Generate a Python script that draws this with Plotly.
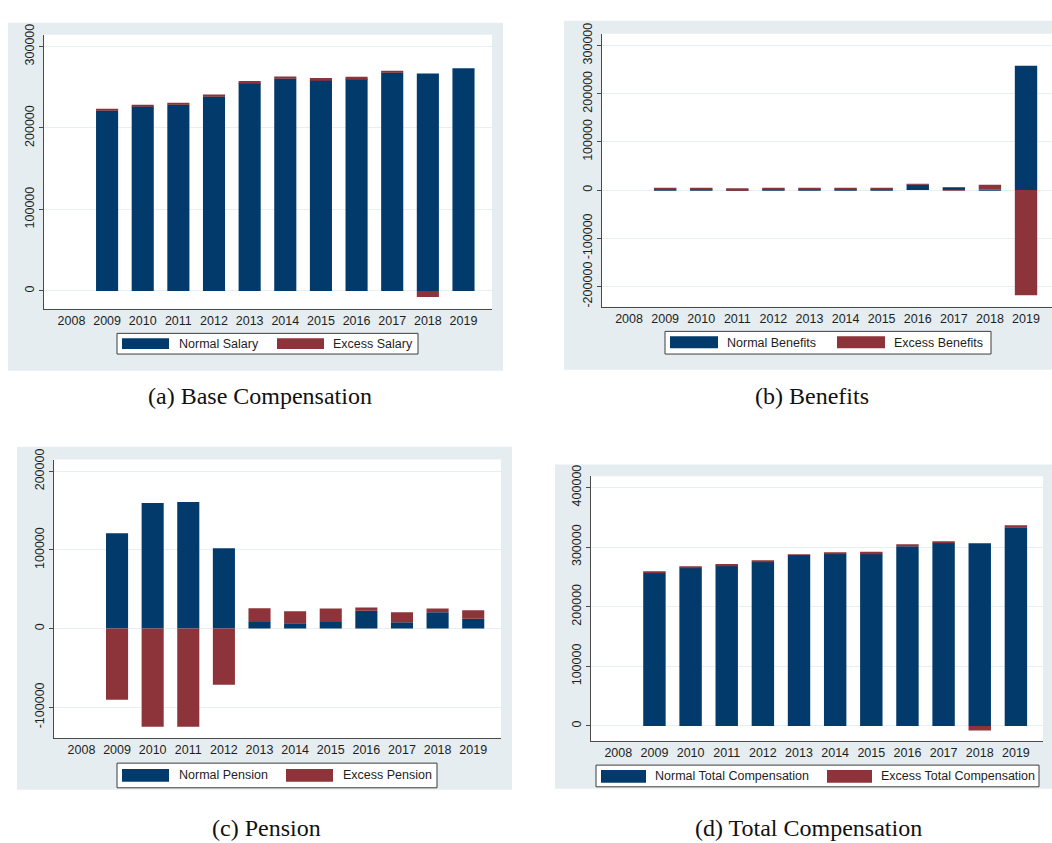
import plotly.graph_objects as go

# ---- data -------------------------------------------------------------
years = [2009, 2010, 2011, 2012, 2013, 2014, 2015, 2016, 2017, 2018, 2019]
year_ticks = [2008, 2009, 2010, 2011, 2012, 2013, 2014, 2015, 2016, 2017, 2018, 2019]

salary_normal = [221500, 226500, 228900, 238600, 255200, 260800, 259200, 260400, 268000, 266900, 273300]
salary_excess = [1700, 1500, 2000, 2400, 2400, 2400, 2000, 2400, 1300, -7300, 0]

benefits_normal = [1500, 2000, 500, 1000, 1500, 2000, 1500, 11500, 6000, 500, 258000]
benefits_excess = [3500, 3000, 3500, 3500, 3000, 2500, 3000, 500, -800, 10500, -218000]

pension_normal = [121300, 159800, 161100, 102100, 8400, 6700, 8400, 22600, 8000, 20900, 12600]
pension_excess = [-90400, -124700, -124700, -71500, 17500, 15500, 17100, 4200, 12900, 4600, 10800]

total_normal = [257300, 265600, 269400, 274900, 286500, 288700, 289300, 301400, 306900, 306300, 333300]
total_excess = [1700, 2200, 2200, 2800, 1100, 1700, 2700, 2700, 2200, -7700, 2800]

panels = [
    dict(normal=salary_normal, excess=salary_excess,
         labels=("Normal Salary", "Excess Salary"),
         caption="(a) Base Compensation",
         yticks=[0, 100000, 200000, 300000]),
    dict(normal=benefits_normal, excess=benefits_excess,
         labels=("Normal Benefits", "Excess Benefits"),
         caption="(b) Benefits",
         yticks=[-200000, -100000, 0, 100000, 200000, 300000]),
    dict(normal=pension_normal, excess=pension_excess,
         labels=("Normal Pension", "Excess Pension"),
         caption="(c) Pension",
         yticks=[-100000, 0, 100000, 200000]),
    dict(normal=total_normal, excess=total_excess,
         labels=("Normal Total Compensation", "Excess Total Compensation"),
         caption="(d) Total Compensation",
         yticks=[0, 100000, 200000, 300000, 400000]),
]

# ---- layout geometry (pixels on a 1052 x 843 page) ---------------------
W, H = 1052, 843
BLUE = "#023a6b"
RED = "#8c3439"
BG = "#e5edf0"
GRID = "#e8eff1"
AXIS = "#4a4a4a"

geom = [
    dict(bg=(8, 12, 503, 365), plot=(44, 24, 492, 302),
         xr=(2007.23, 2019.8), yr=(-21800, 314500),
         box=(117, 327, 418, 348), sw=(332, 343),
         items=((122, 169, 177), (277, 324, 331)),
         cap=(260, 391)),
    dict(bg=(564, 10, 1052, 364), plot=(602, 23, 1052, 300),
         xr=(2007.25, 2019.72), yr=(-242000, 324500),
         box=(665, 325, 991, 348), sw=(330, 342),
         items=((670, 718, 725), (837, 885, 892)),
         cap=(812, 391)),
    dict(bg=(17, 442, 512, 790), plot=(54, 455, 501, 738),
         xr=(2007.23, 2019.78), yr=(-139700, 215000),
         box=(117, 763, 437, 788), sw=(769, 782),
         items=((122, 169, 177), (286, 333, 341)),
         cap=(266, 829)),
    dict(bg=(555, 460, 1052, 789), plot=(591, 472, 1043, 741),
         xr=(2007.245, 2019.75), yr=(-26000, 418700),
         box=(596, 765, 1039, 787), sw=(770, 783),
         items=((601, 646, 653), (827, 872, 879)),
         cap=(808, 829)),
]


def px(x):
    return x / W


def py(y):
    return 1 - y / H


fig = go.Figure()
shapes = []
annotations = []
layout_axes = {}

for i, (p, g) in enumerate(zip(panels, geom)):
    n = i + 1
    xa = "x" if n == 1 else f"x{n}"
    ya = "y" if n == 1 else f"y{n}"

    fig.add_trace(go.Bar(x=years, y=p["normal"], xaxis=xa, yaxis=ya,
                         marker=dict(color=BLUE, line=dict(width=0)),
                         width=0.62, name=p["labels"][0], showlegend=False))
    fig.add_trace(go.Bar(x=years, y=p["excess"], xaxis=xa, yaxis=ya,
                         marker=dict(color=RED, line=dict(width=0)),
                         width=0.62, name=p["labels"][1], showlegend=False))

    x0, y0, x1, y1 = g["plot"]
    xkey = "xaxis" if n == 1 else f"xaxis{n}"
    ykey = "yaxis" if n == 1 else f"yaxis{n}"
    layout_axes[xkey] = dict(
        domain=[px(x0), min(px(x1), 1.0)], anchor=ya, range=list(g["xr"]),
        tickmode="array", tickvals=year_ticks, ticktext=[str(v) for v in year_ticks],
        showgrid=False, zeroline=False, showline=True, linecolor=AXIS, linewidth=1,
        ticks="", tickfont=dict(family="Liberation Sans, Arial", size=12.5, color="#1e1e1e"),
        fixedrange=True,
    )
    layout_axes[ykey] = dict(
        domain=[py(y1), py(y0)], anchor=xa, range=list(g["yr"]),
        tickmode="array", tickvals=p["yticks"], ticktext=[str(v) for v in p["yticks"]],
        tickangle=-90, showgrid=True, gridcolor=GRID, gridwidth=1,
        zeroline=False, showline=True, linecolor=AXIS, linewidth=1,
        ticks="outside", ticklen=4, tickcolor=AXIS, tickwidth=1,
        tickfont=dict(family="Liberation Sans, Arial", size=12.5, color="#1e1e1e"),
        fixedrange=True,
    )

    # graph region and white plot region
    bx0, by0, bx1, by1 = g["bg"]
    shapes.append(dict(type="rect", xref="paper", yref="paper", layer="below",
                       x0=px(bx0), x1=px(bx1), y0=py(by1), y1=py(by0),
                       fillcolor=BG, line=dict(width=0)))
    shapes.append(dict(type="rect", xref="paper", yref="paper", layer="below",
                       x0=px(x0), x1=px(x1), y0=py(y1), y1=py(y0),
                       fillcolor="white", line=dict(width=0)))

    # legend box with wide swatches
    lx0, ly0, lx1, ly1 = g["box"]
    shapes.append(dict(type="rect", xref="paper", yref="paper", layer="above",
                       x0=px(lx0), x1=px(lx1), y0=py(ly1), y1=py(ly0),
                       fillcolor="white", line=dict(color="#3c3c3c", width=1)))
    sy0, sy1 = g["sw"]
    for (sx0, sx1, tx), color, label in zip(g["items"], (BLUE, RED), p["labels"]):
        shapes.append(dict(type="rect", xref="paper", yref="paper", layer="above",
                           x0=px(sx0), x1=px(sx1), y0=py(sy1), y1=py(sy0),
                           fillcolor=color, line=dict(width=0)))
        annotations.append(dict(xref="paper", yref="paper", x=px(tx), y=py((ly0 + ly1) / 2),
                                text=label, showarrow=False, xanchor="left", yanchor="middle",
                                font=dict(family="Liberation Sans, Arial", size=12.5, color="#1e1e1e")))

    cx, cy = g["cap"]
    annotations.append(dict(xref="paper", yref="paper", x=px(cx), y=py(cy),
                            text=p["caption"], showarrow=False, xanchor="center", yanchor="middle",
                            font=dict(family="Liberation Serif, serif", size=24, color="#111111")))

fig.update_layout(
    width=W, height=H, margin=dict(l=0, r=0, t=0, b=0),
    paper_bgcolor="white", plot_bgcolor="rgba(0,0,0,0)",
    barmode="relative", showlegend=False,
    shapes=shapes, annotations=annotations,
    **layout_axes,
)

fig.write_html("out.html")
